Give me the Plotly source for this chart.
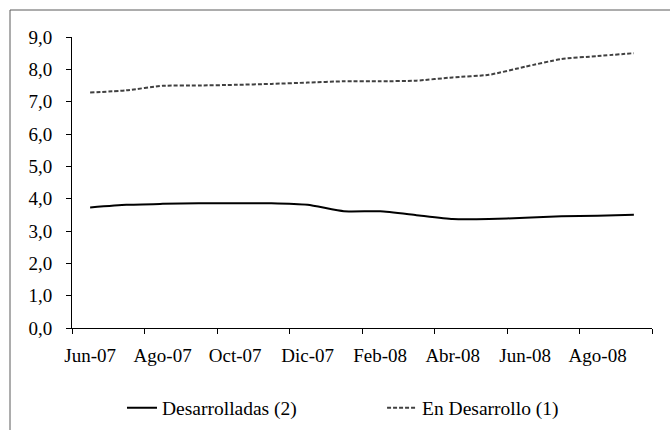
import plotly.graph_objects as go

months = ["Jun-07", "Jul-07", "Ago-07", "Sep-07", "Oct-07", "Nov-07", "Dic-07", "Ene-08",
          "Feb-08", "Mar-08", "Abr-08", "May-08", "Jun-08", "Jul-08", "Ago-08", "Sep-08"]
desarrolladas = [3.73, 3.81, 3.84, 3.86, 3.86, 3.86, 3.81, 3.61,
                 3.61, 3.49, 3.37, 3.37, 3.41, 3.46, 3.47, 3.50]
en_desarrollo = [7.28, 7.35, 7.49, 7.50, 7.52, 7.55, 7.59, 7.63,
                 7.63, 7.65, 7.75, 7.83, 8.08, 8.32, 8.41, 8.50]
y_ticks = [0, 1, 2, 3, 4, 5, 6, 7, 8, 9]

FONT = "Times New Roman, Liberation Serif, serif"
FS = 19
tf = dict(family=FONT, size=FS, color="black")
lf = dict(family=FONT, size=19.5, color="black")

fig = go.Figure()
fig.add_trace(go.Scatter(
    x=months, y=desarrolladas, mode="lines", name="Desarrolladas (2)",
    line=dict(color="black", width=2, shape="spline", smoothing=0.5),
    legend="legend", showlegend=True))
fig.add_trace(go.Scatter(
    x=months, y=en_desarrollo, mode="lines", name="En Desarrollo (1)",
    line=dict(color="#404040", width=2, dash="4px,2px", shape="spline", smoothing=0.5),
    legend="legend2", showlegend=True))

fig.update_layout(
    width=670, height=430,
    margin=dict(l=72, r=18, t=37, b=102, autoexpand=False),
    paper_bgcolor="white", plot_bgcolor="white",
    separators=",.",
    showlegend=True,
    font=tf,
    xaxis=dict(
        type="category", categoryorder="array", categoryarray=months,
        range=[-0.5, 15.5], tickmode="linear", tick0=0, dtick=2,
        tickson="boundaries", ticks="outside", ticklen=5, tickcolor="black",
        tickangle=0, ticklabelstandoff=10,
        showline=True, linecolor="black", linewidth=1, showgrid=False,
        zeroline=False, tickfont=tf,
    ),
    yaxis=dict(
        range=[0, 9], tickvals=y_ticks, tickformat=".1f",
        ticks="outside", ticklen=5, tickcolor="black", ticklabelstandoff=10,
        showline=True, linecolor="black", linewidth=1, showgrid=False,
        zeroline=False, tickfont=tf,
    ),
    legend=dict(x=0.0862, xanchor="left", y=-0.275, yanchor="middle",
                bgcolor="rgba(0,0,0,0)", font=lf),
    legend2=dict(x=0.5346, xanchor="left", y=-0.275, yanchor="middle",
                 bgcolor="rgba(0,0,0,0)", font=lf),
    shapes=[dict(type="rect", xref="paper", yref="paper",
                 x0=(10 - 72) / 580, x1=1.3, y0=-0.6, y1=(328 - 10) / 291,
                 line=dict(color="#5a5a5a", width=1), layer="below")],
)

fig.write_html("out.html", config={"displayModeBar": False},
               post_script="document.body.style.margin='0';")
